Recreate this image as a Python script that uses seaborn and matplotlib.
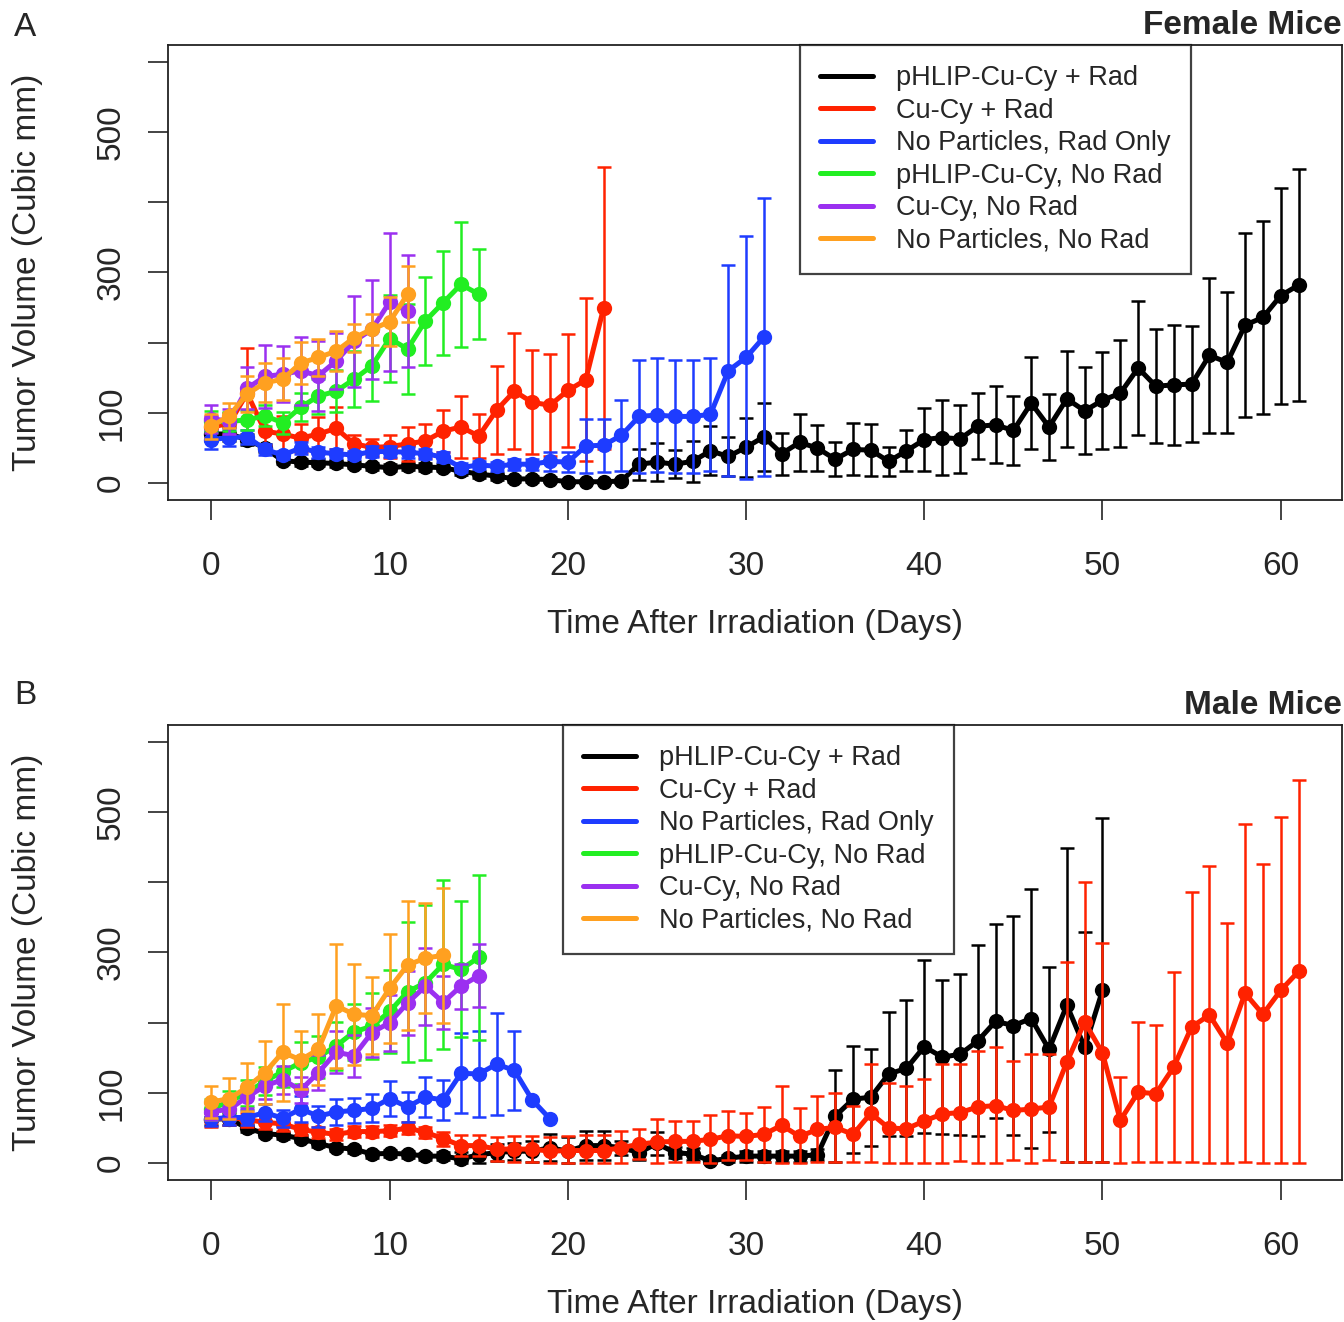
import numpy as np
import matplotlib
matplotlib.use("Agg")
import matplotlib.pyplot as plt
from matplotlib.lines import Line2D
import seaborn as sns

# groups, colours (R-style palette)
groups = ["pHLIP-Cu-Cy + Rad", "Cu-Cy + Rad", "No Particles, Rad Only",
          "pHLIP-Cu-Cy, No Rad", "Cu-Cy, No Rad", "No Particles, No Rad"]
colors = ["#000000", "#FF2200", "#1E3CFF", "#22EE22", "#9B30F0", "#FFA020"]

# ---- Panel A: female mice (mean, sd per day) ----
fa_black = [70, 70, 62, 50, 32, 30, 29, 28, 26, 24, 22, 24, 23, 22, 17, 13, 10, 6, 6, 5,
            2, 2, 2, 3, 27, 30, 27, 31, 46, 38, 51, 66, 42, 58, 50, 34, 48, 47, 31, 46,
            62, 65, 63, 81, 83, 75, 114, 80, 120, 103, 118, 128, 164, 138, 140, 141,
            182, 172, 225, 236, 267, 282]
fa_black_sd = [10, 10, 8, 6, 5, 5, 5, 5, 5, 5, 5, 5, 5, 5, 5, 5, 5, 4, 4, 4,
               3, 3, 3, 3, 22, 27, 20, 29, 35, 28, 42, 48, 30, 41, 33, 24, 37, 37, 21, 29,
               45, 53, 48, 47, 55, 49, 66, 47, 68, 62, 69, 76, 95, 81, 85, 83,
               110, 100, 131, 138, 154, 165]
fa_red = [80, 85, 128, 74, 70, 64, 70, 78, 56, 51, 52, 56, 60, 74, 80, 67, 104, 131,
          115, 111, 132, 147, 249]
fa_red_sd = [15, 15, 65, 20, 25, 20, 24, 30, 12, 12, 16, 24, 24, 30, 44, 31, 63, 83,
             74, 73, 80, 116, 201]
fa_blue = [62, 65, 66, 48, 40, 50, 44, 42, 40, 45, 45, 44, 42, 37, 22, 26, 24, 27, 27,
           31, 30, 53, 54, 68, 95, 97, 95, 95, 98, 160, 179, 208]
fa_blue_sd = [14, 12, 10, 8, 6, 8, 8, 6, 6, 8, 8, 8, 7, 7, 6, 6, 6, 8, 8, 14, 14, 38,
              38, 51, 80, 81, 81, 81, 80, 150, 173, 198]
fa_green = [88, 88, 90, 96, 86, 108, 124, 131, 148, 167, 206, 191, 231, 257, 283, 269]
fa_green_sd = [15, 14, 14, 15, 16, 20, 25, 30, 40, 50, 62, 64, 63, 74, 89, 64]
fa_purple = [92, 88, 135, 152, 155, 160, 153, 174, 202, 219, 258, 245]
fa_purple_sd = [20, 18, 30, 45, 40, 48, 50, 40, 65, 70, 98, 80]
fa_orange = [81, 96, 127, 143, 148, 171, 179, 188, 207, 219, 230, 269]
fa_orange_sd = [18, 18, 25, 28, 30, 30, 27, 28, 20, 22, 35, 40]

# ---- Panel B: male mice ----
mb_black = [63, 63, 50, 42, 40, 35, 28, 22, 20, 13, 14, 13, 10, 10, 6, 12, 15, 17, 17,
            22, 17, 25, 25, 22, 15, 28, 15, 13, 3, 7, 10, 10, 10, 10, 12, 67, 91, 94,
            127, 135, 166, 151, 155, 174, 202, 196, 206, 162, 225, 165, 246]
mb_black_sd = [8, 8, 6, 5, 5, 5, 5, 5, 5, 5, 5, 5, 5, 6, 10, 12, 12, 12, 15, 19,
               20, 21, 21, 10, 10, 16, 8, 8, 5, 5, 8, 8, 8, 8, 8, 65, 76, 69, 88, 97,
               123, 110, 115, 136, 138, 156, 185, 118, 224, 164, 245]
mb_red = [62, 65, 62, 58, 56, 48, 44, 41, 45, 45, 46, 50, 44, 35, 25, 25, 20, 20, 20,
          17, 18, 18, 18, 22, 27, 30, 31, 31, 34, 39, 38, 41, 54, 38, 48, 51, 41, 71,
          50, 49, 60, 70, 72, 80, 82, 75, 77, 80, 144, 201, 157, 61, 101, 99, 137, 194,
          211, 171, 242, 212, 246, 273]
mb_red_sd = [10, 10, 10, 10, 10, 8, 8, 8, 8, 8, 8, 8, 8, 10, 15, 15, 17, 18, 18, 20,
             20, 22, 22, 24, 21, 33, 29, 29, 34, 35, 33, 39, 56, 40, 47, 49, 40, 70,
             64, 61, 60, 71, 69, 80, 83, 71, 79, 76, 142, 199, 156, 61, 100, 98, 135,
             192, 212, 171, 241, 214, 247, 273]
mb_blue = [63, 65, 65, 72, 64, 77, 67, 73, 75, 78, 92, 80, 94, 90, 128, 127, 141, 132,
           90, 63]
mb_blue_sd = [10, 10, 10, 12, 12, 18, 15, 18, 18, 20, 25, 22, 28, 28, 57, 61, 73, 56,
              0, 0]
mb_green = [77, 88, 100, 117, 130, 143, 151, 167, 187, 195, 216, 244, 257, 283, 276, 293]
mb_green_sd = [15, 15, 18, 20, 22, 30, 30, 34, 40, 47, 59, 100, 110, 120, 97, 117]
mb_purple = [73, 77, 94, 110, 119, 104, 129, 158, 153, 186, 200, 228, 252, 229, 252, 267]
mb_purple_sd = [12, 12, 15, 18, 20, 18, 25, 30, 30, 35, 40, 45, 55, 38, 32, 45]
mb_orange = [87, 92, 108, 129, 158, 147, 162, 224, 212, 210, 249, 282, 292, 296]
mb_orange_sd = [23, 29, 34, 45, 69, 41, 51, 88, 72, 55, 78, 92, 78, 96]

panel_a = [(fa_black, fa_black_sd), (fa_red, fa_red_sd), (fa_blue, fa_blue_sd),
           (fa_green, fa_green_sd), (fa_purple, fa_purple_sd), (fa_orange, fa_orange_sd)]
panel_b = [(mb_black, mb_black_sd), (mb_red, mb_red_sd), (mb_blue, mb_blue_sd),
           (mb_green, mb_green_sd), (mb_purple, mb_purple_sd), (mb_orange, mb_orange_sd)]

sns.set_style("ticks")
plt.rcParams["font.family"] = ["Liberation Sans", "DejaVu Sans"]

W, H = 1344, 1322
fig = plt.figure(figsize=(W / 100, H / 100), dpi=100)


def draw_panel(ax, series, legend_x):
    for i, (mean, sd) in enumerate(series):
        mean = np.asarray(mean, dtype=float)
        sd = np.asarray(sd, dtype=float)
        days = np.arange(len(mean))
        c = colors[i]
        ax.errorbar(days, mean, yerr=[np.minimum(sd, mean), sd], fmt="none",
                    ecolor=c, elinewidth=1.8, capsize=4.7, capthick=1.8, zorder=2 + i)
        sns.lineplot(x=days, y=mean, color=c, marker="o", markersize=11,
                     markeredgewidth=0, linewidth=3.6, errorbar=None,
                     legend=False, ax=ax, zorder=2.5 + i)
    ax.set_xlim(-2.44, 63.44)
    ax.set_ylim(-24, 624)
    ax.set_xticks(range(0, 61, 10))
    ax.set_yticks(range(0, 601, 100))
    ax.set_yticklabels(["0", "100", "", "300", "", "500", ""])
    ax.tick_params(axis="both", direction="out", length=14.4, width=1.1,
                   labelsize=24, color="#111111")
    ax.tick_params(axis="x", pad=22)
    ax.tick_params(axis="y", pad=15)
    plt.setp(ax.get_yticklabels(), rotation=90, va="center")
    ax.set_xlabel("")
    ax.set_ylabel("")
    for sp in ax.spines.values():
        sp.set_visible(True)
        sp.set_linewidth(1.3)
        sp.set_color("#222222")
    handles = [Line2D([0], [0], color=c, linewidth=3.6) for c in colors]
    leg = ax.legend(handles, groups, loc="upper left",
                    bbox_to_anchor=(legend_x, 1.0), borderaxespad=0,
                    fontsize=19.5, frameon=True, fancybox=False,
                    handlelength=1.96, handletextpad=0.85, borderpad=0.75,
                    labelspacing=0.24)
    leg.get_frame().set_edgecolor("#111111")
    leg.get_frame().set_linewidth(1.6)
    leg.set_zorder(20)


left, right = 168 / W, 1342 / W
ax_a = fig.add_axes([left, 1 - 500 / H, right - left, 455 / H])
ax_b = fig.add_axes([left, 1 - 1180 / H, right - left, 455 / H])

draw_panel(ax_a, panel_a, (800 - 168) / 1174)
draw_panel(ax_b, panel_b, (563 - 168) / 1174)

# letters, titles and axis labels
fig.text(25 / W, 1 - 28 / H, "A", ha="center", va="center", fontsize=24)
fig.text(25 / W, 1 - 695 / H, "B", ha="center", va="center", fontsize=24)
fig.text(1342 / W, 1 - 26 / H, "Female Mice", ha="right", va="center",
         fontsize=24, fontweight="bold")
fig.text(1342 / W, 1 - 706 / H, "Male Mice", ha="right", va="center",
         fontsize=24, fontweight="bold")
for y_ax, y_lab in [(272, 625), (952, 1305)]:
    fig.text(28 / W, 1 - y_ax / H, "Tumor Volume (Cubic mm)", rotation=90,
             ha="center", va="center", fontsize=24)
    fig.text(755 / W, 1 - y_lab / H, "Time After Irradiation (Days)",
             ha="center", va="center", fontsize=24)

fig.savefig("out.png", dpi=100, facecolor="white")
